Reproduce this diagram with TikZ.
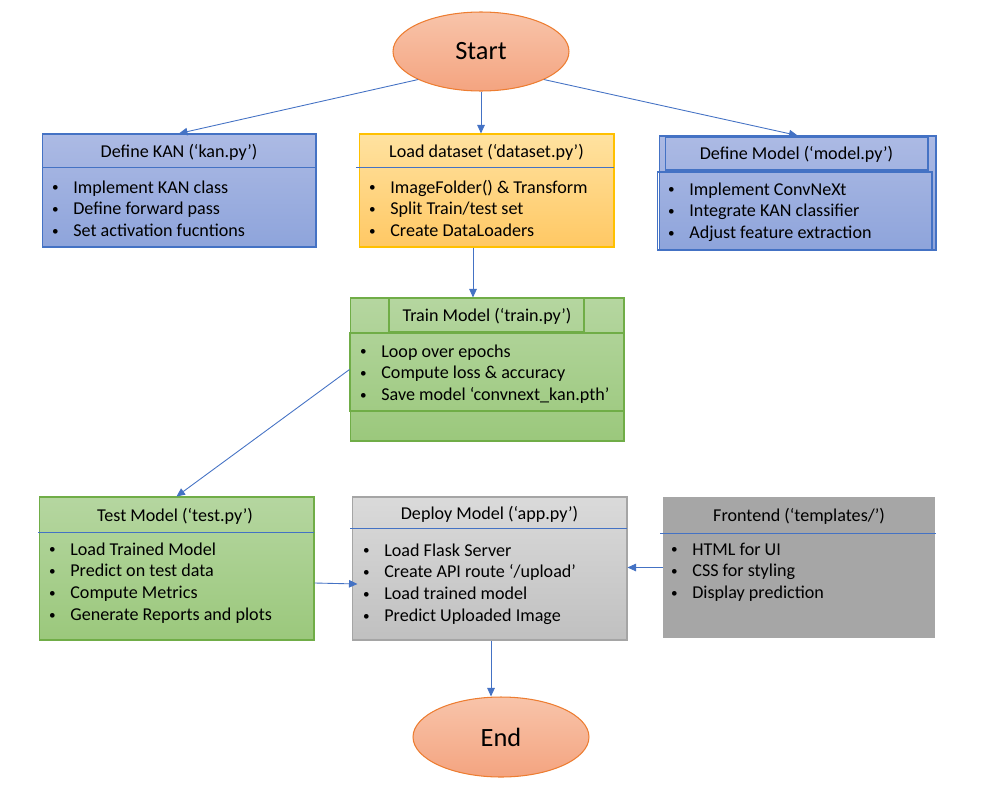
\documentclass[tikz,border=0pt]{standalone}
\usepackage{fontspec}
\setmainfont{Carlito}
\usetikzlibrary{shapes.geometric, arrows.meta}

\definecolor{ovline}{RGB}{237,125,49}
\definecolor{ovtop}{RGB}{248,196,170}
\definecolor{ovbot}{RGB}{244,164,128}
\definecolor{blueline}{RGB}{68,114,196}
\definecolor{bluetop}{RGB}{172,186,228}
\definecolor{bluebot}{RGB}{142,164,219}
\definecolor{goldline}{RGB}{255,192,0}
\definecolor{goldtop}{RGB}{255,226,160}
\definecolor{goldbot}{RGB}{255,200,100}
\definecolor{greenline}{RGB}{112,173,71}
\definecolor{greentop}{RGB}{181,214,160}
\definecolor{greenbot}{RGB}{155,200,124}
\definecolor{grayline}{RGB}{165,165,165}
\definecolor{graytop}{RGB}{218,218,218}
\definecolor{graybot}{RGB}{192,192,192}
\definecolor{darkgray}{RGB}{166,166,166}

\newcommand{\blist}[1]{\vtop{\baselineskip=12.5pt\lineskiplimit=0pt #1}}
\newcommand{\bdot}{\hspace{0.024cm}\raisebox{1pt}{\fontsize{7.5pt}{7.5pt}\selectfont\textbullet}}
\newcommand{\bitem}[1]{\hbox{\makebox[0.45cm][l]{\bdot}#1}}

\tikzstyle{oval} = [ellipse, draw=ovline, line width=0.6pt, top color=ovtop, bottom color=ovbot, minimum width=3.52cm, minimum height=1.58cm, inner sep=0pt, font=\fontsize{15pt}{18pt}\selectfont]
\tikzstyle{object} = [rectangle, line width=0.6pt, inner sep=0pt]
\tikzstyle{title} = [anchor=base, inner sep=0pt, font=\fontsize{10.3pt}{12.5pt}\selectfont]
\tikzstyle{list} = [anchor=base west, inner sep=0pt, font=\fontsize{10.3pt}{12.5pt}\selectfont]
\tikzstyle{rule} = [draw=blueline, line width=0.5pt]
\tikzstyle{arrow} = [-{Triangle[length=0.17cm, width=0.15cm]}, draw=blueline, line width=0.5pt]

\begin{document}
\begin{tikzpicture}[x=0.02cm, y=-0.02cm]
\useasboundingbox (0,0) rectangle (997,788);
% start / end
\node (start) [oval] at (481,51.5) {Start};
\node (end) [oval, minimum height=1.6cm] at (501,737) {End};
% top row
\node (kan) [object, draw=blueline, top color=bluetop, bottom color=bluebot, minimum width=5.48cm, minimum height=2.26cm] at (179,190.5) {};
\node (data) [object, draw=goldline, top color=goldtop, bottom color=goldbot, minimum width=5.10cm, minimum height=2.26cm] at (486.5,190.5) {};
\node (model) [object, draw=blueline, top color=bluetop, bottom color=bluebot, minimum width=5.54cm, minimum height=2.28cm] at (797.5,193) {};
\node (modelhead) [object, draw=blueline, minimum width=5.26cm, minimum height=0.66cm] at (796.5,153.5) {};
\node (modelbody) [object, draw=blueline, minimum width=5.50cm, minimum height=1.56cm] at (794.5,211) {};
\draw [rule] (42,167) -- (316,167);
\draw [rule] (356,167) -- (614,167);
\node (kantitle) [title] at (179,157) {Define KAN (‘kan.py’)};
\node (datatitle) [title] at (486.5,157) {Load dataset (‘dataset.py’)};
\node (modeltitle) [title] at (796.5,159) {Define Model (‘model.py’)};
\node (kanlist) [list] at (50.5,193) {\blist{\bitem{Implement KAN class}\bitem{Define forward pass}\bitem{Set activation fucntions}}};
\node (datalist) [list] at (367.5,193) {\blist{\bitem{ImageFolder() \& Transform}\bitem{Split Train/test set}\bitem{Create DataLoaders}}};
\node (modellist) [list] at (666.5,195) {\blist{\bitem{Implement ConvNeXt}\bitem{Integrate KAN classifier}\bitem{Adjust feature extraction}}};
% train
\node (train) [object, draw=greenline, top color=greentop, bottom color=greenbot, minimum width=5.48cm, minimum height=2.86cm] at (487,369.5) {};
\node (trainhead) [object, draw=greenline, minimum width=3.90cm, minimum height=0.68cm] at (486.5,315) {};
\node (trainbody) [object, draw=greenline, minimum width=5.50cm, minimum height=1.56cm] at (486.5,372) {};
\node (traintitle) [title] at (487,321) {Train Model (‘train.py’)};
\node (trainlist) [list] at (358.5,357) {\blist{\bitem{Loop over epochs}\bitem{Compute loss \& accuracy}\bitem{Save model ‘convnext\_kan.pth’}}};
% bottom row
\node (test) [object, draw=greenline, top color=greentop, bottom color=greenbot, minimum width=5.50cm, minimum height=2.86cm] at (176.5,568.5) {};
\node (deploy) [object, draw=grayline, top color=graytop, bottom color=graybot, minimum width=5.50cm, minimum height=2.86cm] at (489.5,568.5) {};
\node (front) [object, fill=darkgray, minimum width=5.44cm, minimum height=2.82cm] at (799,567.5) {};
\draw [rule] (38,532) -- (314,532);
\draw [rule] (350,528) -- (627,528);
\draw [rule] (660,533) -- (936,533);
\node (testtitle) [title] at (175,521) {Test Model (‘test.py’)};
\node (deploytitle) [title] at (489.5,519) {Deploy Model (‘app.py’)};
\node (fronttitle) [title] at (799,521) {Frontend (‘templates/’)};
\node (testlist) [list] at (47.5,555) {\blist{\bitem{Load Trained Model}\bitem{Predict on test data}\bitem{Compute Metrics}\bitem{Generate Reports and plots}}};
\node (deploylist) [list] at (361.5,556) {\blist{\bitem{Load Flask Server}\bitem{Create API route ‘/upload’}\bitem{Load trained model}\bitem{Predict Uploaded Image}}};
\node (frontlist) [list] at (669.5,555) {\blist{\bitem{HTML for UI}\bitem{CSS for styling}\bitem{Display prediction}}};
% connectors
\draw [arrow] (start.204) -- (kan.north);
\draw [arrow] (start.south) -- (start.south |- data.north);
\draw [arrow] (start.-24) -- (model.north);
\draw [arrow] ([xshift=-0.27cm]data.south) -- ([xshift=-0.27cm]data.south |- train.north);
\draw [arrow] (train.west) -- (test.north);
\draw [arrow] ([yshift=-0.29cm]test.east) -- ([xshift=0.12cm, yshift=-0.31cm]deploy.west);
\draw [arrow] (front.west) -- (front.west -| deploy.east);
\draw [arrow] ([xshift=0.03cm]deploy.south) -- ([xshift=0.03cm]deploy.south |- end.north);
\end{tikzpicture}
\end{document}
